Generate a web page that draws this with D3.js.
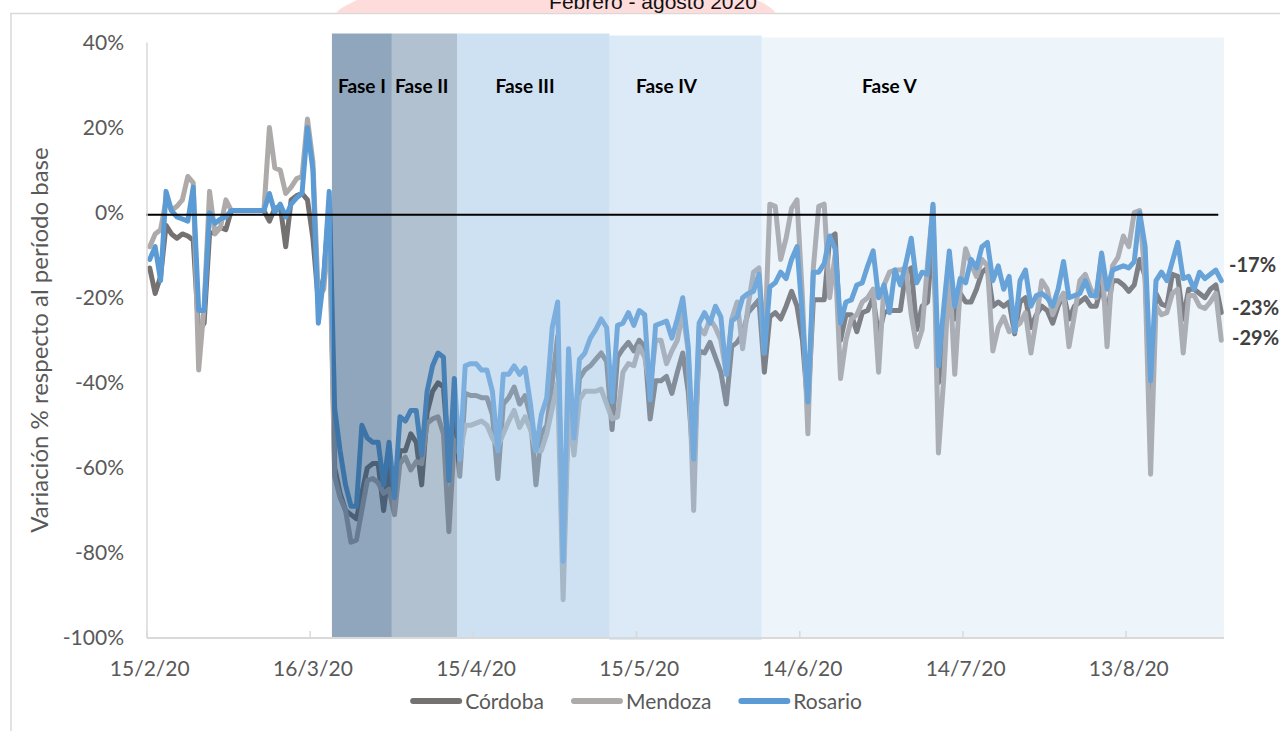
<!DOCTYPE html>
<html>
<head>
<meta charset="utf-8">
<script src="https://cdn.jsdelivr.net/npm/d3@7"></script>
<style>
  body { margin: 0; background: #fff; }
  svg { display: block; }
</style>
</head>
<body>
<svg width="1280" height="731"></svg>
<script>
// one value per day, 15/2/20 .. 30/8/20
var firstDay = '2020-02-15',
	lastDay = '2020-08-30'

var cordoba = [
	-13, -19, -15, -3, -5, -6, -5, -5.5, -6.5, -28,
	-26, -5, -4.5, -3.5, -4, 0.5, 0.5, 0.5, 0.5, 0.5,
	0.5, 0.5, -2, 1, 1.5, -8, 3, 4, 4.5, 3,
	-6, -21, -15, 2, -60, -66, -70, -71, -72, -66,
	-60, -59, -59, -70, -60, -70, -56, -56, -52, -54,
	-64, -47, -42, -40, -41, -58, -45, -62, -42.5, -43,
	-43, -43.5, -43.5, -47.5, -62.5, -45, -43.5, -41, -45, -43,
	-48, -64, -52, -50, -40, -29, -83, -45, -56, -39,
	-37, -36, -34.5, -33, -35, -51, -34, -32, -30.5, -32.5,
	-30, -31.5, -48.5, -39.5, -39.5, -38.5, -42.5, -37.5, -33, -42,
	-60, -32.5, -33, -30.5, -34, -37.5, -45, -31.5, -30.5, -28.5,
	-23.5, -22, -20.5, -37.5, -24.5, -23.5, -25, -22, -18.5, -22,
	-30, -46, -20.5, -20.5, -20.5, -6, -5, -30, -24, -24,
	-28, -23.5, -23, -20, -29, -23.5, -23, -23, -23, -14,
	-13, -27.5, -22, -21, -5, -40, -30, -17, -25, -19,
	-21, -21, -18, -14, -13, -22, -21, -22, -21, -28.5,
	-21, -20, -27, -24, -22, -23, -26, -22, -19, -25,
	-22, -21, -20, -22, -22, -17, -24, -16, -16, -17,
	-18.5, -17, -11, -15, -45, -19, -21.5, -22, -14.5, -15,
	-25, -18, -18, -19, -20, -18, -17, -23.5
]

var mendoza = [
	-8, -5, -4, 3, 0.5, 1.5, 3, 8.5, 7, -37,
	-22, 5, -5, -3.5, 3, 0.5, 0.5, 0.5, 0.5, 0.5,
	0.5, 0.5, 20, 10.5, 10, 4.5, 6, 8, 8.5, 22,
	12, -20, -18, -2, -62, -67, -70, -77.5, -77, -70,
	-63, -62.5, -63.5, -66, -65, -71, -59, -57.5, -60.5, -58.5,
	-59, -49.5, -48.5, -48, -52, -75, -53.5, -57, -50, -50,
	-49.5, -49, -50, -53, -55, -52, -49, -46.5, -50.5, -48,
	-51, -56, -56, -52, -46, -40, -91, -47, -57, -44,
	-42, -42, -42, -41.5, -45, -48.5, -48, -37.5, -35.5, -36,
	-31.5, -34, -41, -30, -30, -35.5, -32.5, -30, -23.5, -32.5,
	-70, -27, -28.5, -25, -27, -30, -38, -25, -21, -32,
	-22, -14, -13, -33, 2, 1.5, -11, -6, 1, 3,
	-20, -52, -13, 1.5, 2, -20, -10, -39, -30, -25,
	-24, -21, -20, -18, -37.5, -17, -14, -13.5, -13.5, -13,
	-24, -31.5, -27.5, -12, 1.5, -56.5, -38.5, -13, -38, -18,
	-8.5, -12, -15, -11, -12.5, -32.5, -27, -24.5, -28, -27,
	-26, -23.5, -33, -25, -16, -18, -24, -21, -19, -31.5,
	-24, -16, -14.5, -18, -20, -10, -31.5, -12.5, -10.5, -5.5,
	-8, 0, 0.5, -16, -61.5, -22, -24, -23.5, -19, -18,
	-33, -19.5, -19.5, -22, -22.5, -21, -19, -30
]

var rosario = [
	-11, -8, -16, 5, 0.5, -1, -1.5, -2, 6, -23,
	-23, 0, -2.5, -1.5, -1, 0.5, 0.5, 0.5, 0.5, 0.5,
	0.5, 0.5, 4.5, 0, 2, -1, 2, 3.5, 4.5, 20,
	10, -26, -15, 5, -46, -56, -64, -69, -69, -50,
	-53, -54, -54, -64, -54, -67, -48, -49, -46.5, -46.5,
	-57, -42, -36, -33, -34, -63, -39, -58, -36, -35.5,
	-35.5, -37, -37, -42, -56, -38, -38, -36, -38, -36.5,
	-45, -56, -47.5, -43.5, -27, -21, -82, -32, -53, -34.5,
	-33, -29.5, -27.5, -25, -27, -44.5, -26.5, -26, -23.5, -26.5,
	-23, -24, -44, -26.5, -26, -25.5, -29.5, -25, -20, -31.5,
	-58, -26, -23.5, -26, -22, -24.5, -38, -25.5, -24.5, -20,
	-19, -18.5, -14.5, -33, -17.5, -16.5, -14, -15.5, -11, -8,
	-24.5, -44.5, -14, -14, -12, -5.5, -8.5, -26, -21, -20.5,
	-17, -16.5, -12.5, -9, -20, -17, -23.5, -13.5, -17, -12,
	-6, -16.5, -14, -14.5, 2, -36, -22, -9, -22, -15.5,
	-16.5, -11, -13, -8, -7, -16, -12.5, -18, -15, -28,
	-16, -13.5, -22, -19.5, -19, -20, -22, -18, -11.5, -20,
	-19.5, -19, -16, -19.5, -19.5, -9.5, -18, -13.5, -13, -12.5,
	-13, -11.5, 0, -8, -39.5, -16, -14, -16, -11.5, -7,
	-15.5, -15, -18, -14, -15.5, -14.5, -13.5, -16
]

var seriesNames = ['Córdoba', 'Mendoza', 'Rosario']
var seriesColors = ['#767171', '#aeaaaa', '#5b9bd5']

var tickDates = ['2020-02-15', '2020-03-16', '2020-04-15', '2020-05-15', '2020-06-14', '2020-07-14', '2020-08-13']
var tickLabels = ['15/2/20', '16/3/20', '15/4/20', '15/5/20', '14/6/20', '14/7/20', '13/8/20']
var yTicks = [40, 20, 0, -20, -40, -60, -80, -100]

var phases = ['Fase I', 'Fase II', 'Fase III', 'Fase IV', 'Fase V']
var phaseStart = ['2020-03-20', '2020-03-31', '2020-04-12', '2020-05-10', '2020-06-07']
var phaseEnd = ['2020-03-30', '2020-04-11', '2020-05-09', '2020-06-06', '2020-08-30']
var phaseLabelDay = ['2020-03-25', '2020-04-05', '2020-04-24', '2020-05-20', '2020-06-30']

var endLabels = ['-17%', '-23%', '-29%']

// ---- styles
var font = 'Lato, "Open Sans", sans-serif',
	grey = '#595959',
	axisGrey = '#d9d9d9',
	phaseFill = ['#1f4e79', '#1f4e79', '#9dc3e6', '#9dc3e6', '#9dc3e6'],
	phaseOpacity = [0.5, 0.35, 0.5, 0.36, 0.19],
	phaseTopPad = [9, 9, 9, 7, 5],
	endLabelDx = [5, 8, 8],
	endLabelDy = [-20, -2, 2]

var parse = d3.timeParse('%Y-%m-%d')
var days = d3.timeDay.range(parse(firstDay), d3.timeDay.offset(parse(lastDay), 1))

var svg = d3.select('svg')

var x = d3.scaleBand().domain(days).range([147, 1224])
var xc = function(d) { return x(d) + x.bandwidth() / 2 }
var y = d3.scaleLinear().domain([-100, 40]).range([638, 42.5])

// frame left over from the cropped chart area
svg.append('path')
	.attr('d', 'M10,13.5H1280M11,13V731')
	.attr('fill', 'none')
	.attr('stroke', axisGrey)
	.attr('stroke-width', 1.5)

svg.append('path')
	.attr('d', 'M336,13L340,9L345,6L351,3L357,0L757,0L763,3L768,6L772,9L776,13Z')
	.attr('fill', '#fedcdc')

svg.append('text')
	.attr('x', 653).attr('y', 9)
	.attr('text-anchor', 'middle')
	.attr('font-family', '"Liberation Sans", Arial, sans-serif')
	.attr('font-size', 21)
	.attr('fill', '#111')
	.text('Febrero - agosto 2020')

// ---- lines
var line = d3.line()
	.x(function(v, i) { return xc(days[i]) })
	.y(function(v) { return y(v) })

var series = [cordoba, mendoza, rosario]

svg.append('g').selectAll('path').data(series)
	.enter().append('path')
	.attr('d', line)
	.attr('fill', 'none')
	.attr('stroke', function(_, i) { return seriesColors[i] })
	.attr('stroke-width', 5)
	.attr('stroke-linejoin', 'round')
	.attr('stroke-linecap', 'round')

// ---- phase bands, drawn over the lines
var bands = svg.append('g')
phases.forEach(function(p, i) {
	var x0 = x(parse(phaseStart[i])),
		x1 = x(parse(phaseEnd[i])) + x.bandwidth(),
		top = y(40) - phaseTopPad[i]
	bands.append('rect')
		.attr('x', x0).attr('y', top)
		.attr('width', x1 - x0)
		.attr('height', y(-100) - top + (i === 3 ? 2 : 0))
		.attr('fill', phaseFill[i])
		.attr('fill-opacity', phaseOpacity[i])
	bands.append('text')
		.attr('x', xc(parse(phaseLabelDay[i])))
		.attr('y', 93)
		.attr('text-anchor', 'middle')
		.attr('font-family', font)
		.attr('font-weight', 'bold')
		.attr('font-size', 19)
		.attr('fill', '#000')
		.text(p)
})

// zero reference line
svg.append('line')
	.attr('x1', 146).attr('x2', xc(days[days.length - 1]) - 3)
	.attr('y1', y(-0.5)).attr('y2', y(-0.5))
	.attr('stroke', '#000')
	.attr('stroke-width', 2)

// ---- axes
var yAxis = svg.append('g')
	.attr('transform', 'translate(147,0)')
	.call(d3.axisLeft(y).tickValues(yTicks).tickSize(0).tickPadding(23)
		.tickFormat(function(d) { return d + '%' }))
yAxis.select('.domain').remove()
yAxis.selectAll('text')
	.attr('font-family', font).attr('font-size', 21).attr('fill', grey)

var xAxis = svg.append('g')
	.attr('transform', 'translate(0,638)')
	.call(d3.axisBottom(x).tickValues(tickDates.map(parse)).tickSize(0).tickPadding(23)
		.tickFormat(function(d, i) { return tickLabels[i] }))
xAxis.select('.domain').remove()
xAxis.selectAll('text')
	.attr('font-family', font).attr('font-size', 21).attr('fill', grey)

svg.append('line')
	.attr('x1', 147).attr('x2', 147)
	.attr('y1', y(40)).attr('y2', y(-100))
	.attr('stroke', axisGrey).attr('stroke-width', 1.5)

svg.append('line')
	.attr('x1', 147).attr('x2', 1224)
	.attr('y1', y(-100)).attr('y2', y(-100))
	.attr('stroke', axisGrey).attr('stroke-width', 2)

// inside tick marks sit on the slot edges
svg.append('g').selectAll('line').data(tickDates.map(parse))
	.enter().append('line')
	.attr('x1', function(d) { return x(d) }).attr('x2', function(d) { return x(d) })
	.attr('y1', y(-100) - 7).attr('y2', y(-100))
	.attr('stroke', axisGrey).attr('stroke-width', 1.5)

svg.append('text')
	.attr('transform', 'translate(48,340) rotate(-90)')
	.attr('text-anchor', 'middle')
	.attr('font-family', font)
	.attr('font-size', 24)
	.attr('fill', grey)
	.text('Variación % respecto al período base')

// ---- end labels
endLabels.forEach(function(t, i) {
	svg.append('text')
		.attr('x', 1224 + endLabelDx[i])
		.attr('y', y(parseFloat(t)) + endLabelDy[i])
		.attr('dy', '0.35em')
		.attr('font-family', font)
		.attr('font-weight', 'bold')
		.attr('font-size', 20)
		.attr('fill', '#404040')
		.text(t)
})

// ---- legend
var legend = svg.append('g'),
	pos = 0
seriesNames.forEach(function(name, i) {
	var item = legend.append('g').attr('transform', 'translate(' + pos + ',0)')
	item.append('line')
		.attr('x1', 3).attr('x2', 49)
		.attr('y1', 701).attr('y2', 701)
		.attr('stroke', seriesColors[i])
		.attr('stroke-width', 6)
		.attr('stroke-linecap', 'round')
	var t = item.append('text')
		.attr('x', 55).attr('y', 709)
		.attr('font-family', font)
		.attr('font-size', 21)
		.attr('fill', grey)
		.text(name)
	pos += 55 + t.node().getComputedTextLength() + 27
})
legend.attr('transform', 'translate(' + (636 - (pos - 27) / 2) + ',0)')
</script>
</body>
</html>
